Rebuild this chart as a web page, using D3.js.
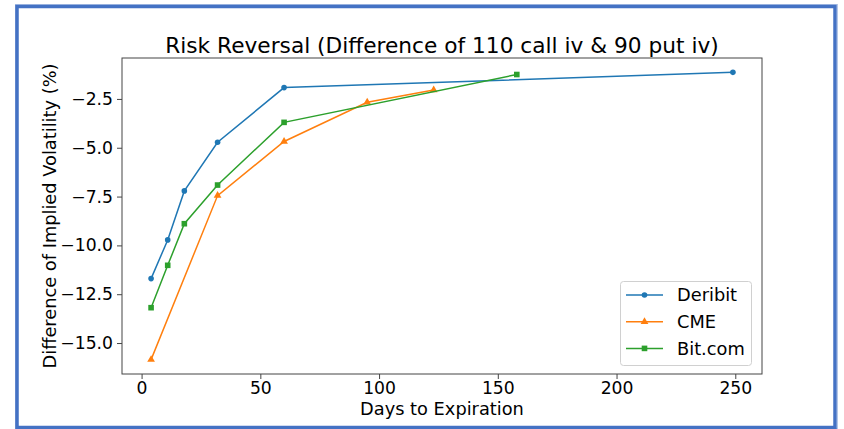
<!DOCTYPE html>
<html>
<head>
<meta charset="utf-8">
<script src="https://cdn.jsdelivr.net/npm/d3@7"></script>
<style>
  html, body { margin: 0; padding: 0; background: #fff; }
  svg { display: block; }
  text { font-family: "DejaVu Sans", sans-serif; fill: #000; }
</style>
</head>
<body>
<svg id="chart" width="844" height="429"></svg>
<script>
// ---- data ----
const title = "Risk Reversal (Difference of 110 call iv & 90 put iv)";
const xLabel = "Days to Expiration";
const yLabel = "Difference of Implied Volatility (%)";
const seriesNames = ["Deribit", "CME", "Bit.com"];
const seriesColors = ["#1f77b4", "#ff7f0e", "#2ca02c"];
const seriesMarkers = ["circle", "triangle", "square"];

const deribitDays = [4, 11, 18, 32, 60, 249];
const deribitValues = [-11.7, -9.72, -7.21, -4.72, -1.92, -1.14];
const cmeDays = [4, 32, 60, 95, 123];
const cmeValues = [-15.85, -7.45, -4.68, -2.67, -2.04];
const bitDays = [4, 11, 18, 32, 60, 158];
const bitValues = [-13.19, -11.02, -8.89, -6.91, -3.70, -1.25];

const xTicks = [0, 50, 100, 150, 200, 250];
const yTicks = [-15, -12.5, -10, -7.5, -5, -2.5];

// ---- layout ----
const svg = d3.select("#chart");
const plot = { left: 122, right: 762, top: 58, bottom: 374 };

const series = [
  { name: seriesNames[0], days: deribitDays, vals: deribitValues, color: seriesColors[0], marker: seriesMarkers[0] },
  { name: seriesNames[1], days: cmeDays, vals: cmeValues, color: seriesColors[1], marker: seriesMarkers[1] },
  { name: seriesNames[2], days: bitDays, vals: bitValues, color: seriesColors[2], marker: seriesMarkers[2] }
];

const allX = series.flatMap(s => s.days);
const allY = series.flatMap(s => s.vals);
const [x0, x1] = d3.extent(allX);
const [y0, y1] = d3.extent(allY);
const mx = (x1 - x0) * 0.05, my = (y1 - y0) * 0.05;

const x = d3.scaleLinear().domain([x0 - mx, x1 + mx]).range([plot.left, plot.right]);
const y = d3.scaleLinear().domain([y0 - my, y1 + my]).range([plot.bottom, plot.top]);

// outer frame
svg.append("rect").attr("x", 15.5).attr("y", 4.5).attr("width", 822).attr("height", 424)
  .attr("fill", "none").attr("stroke", "#b4c7e7").attr("stroke-width", 1);
svg.append("rect").attr("x", 17).attr("y", 6.5).attr("width", 818).attr("height", 421)
  .attr("fill", "#fff").attr("stroke", "#4472c4").attr("stroke-width", 3.5);

// title
svg.append("text").attr("x", (plot.left + plot.right) / 2).attr("y", 53)
  .attr("text-anchor", "middle").style("font-size", "21.7px").text(title);

const fmt = d => (d < 0 ? "\u2212" : "") + Math.abs(d).toFixed(1);

// axes
const xAxis = d3.axisBottom(x).tickValues(xTicks).tickFormat(d3.format("d")).tickSize(5).tickPadding(3);
const yAxis = d3.axisLeft(y).tickValues(yTicks).tickFormat(fmt).tickSize(5).tickPadding(4);

const gx = svg.append("g").attr("transform", `translate(0,${plot.bottom})`).call(xAxis);
const gy = svg.append("g").attr("transform", `translate(${plot.left},0)`).call(yAxis);
[gx, gy].forEach(g => {
  g.select(".domain").remove();
  g.selectAll(".tick line").attr("stroke", "#444").attr("stroke-width", 1);
  g.selectAll(".tick text").style("font-family", "DejaVu Sans").style("font-size", "17.2px").attr("fill", "#000");
});

// plot frame (spines)
svg.append("rect").attr("x", plot.left).attr("y", plot.top)
  .attr("width", plot.right - plot.left).attr("height", plot.bottom - plot.top)
  .attr("fill", "none").attr("stroke", "#444").attr("stroke-width", 1);

// axis labels
svg.append("text").attr("x", (plot.left + plot.right) / 2).attr("y", 415)
  .attr("text-anchor", "middle").style("font-size", "17.8px").text(xLabel);
svg.append("text").attr("transform", `translate(56,${(plot.top + plot.bottom) / 2}) rotate(-90)`)
  .attr("text-anchor", "middle").style("font-size", "17.8px").text(yLabel);

// markers
function drawMarker(g, type, cx, cy, color) {
  if (type === "circle") {
    g.append("circle").attr("cx", cx).attr("cy", cy).attr("r", 2.8).attr("fill", color);
  } else if (type === "square") {
    g.append("rect").attr("x", cx - 2.8).attr("y", cy - 2.8).attr("width", 5.6).attr("height", 5.6).attr("fill", color);
  } else {
    g.append("path").attr("d", d3.symbol(d3.symbolTriangle, 26)()).attr("transform", `translate(${cx},${cy})`).attr("fill", color);
  }
}

const line = d3.line().x(d => x(d[0])).y(d => y(d[1]));
const plotG = svg.append("g");
series.forEach(s => {
  const pts = s.days.map((d, i) => [d, s.vals[i]]);
  plotG.append("path").datum(pts).attr("d", line).attr("fill", "none")
    .attr("stroke", s.color).attr("stroke-width", 1.5);
  pts.forEach(p => drawMarker(plotG, s.marker, x(p[0]), y(p[1]), s.color));
});

// legend
const leg = svg.append("g");
leg.append("rect").attr("x", 620.5).attr("y", 281.5).attr("width", 131).attr("height", 84)
  .attr("rx", 3).attr("fill", "#fff").attr("fill-opacity", 0.8).attr("stroke", "#d0d0d0").attr("stroke-width", 1);
series.forEach((s, i) => {
  const cy = 295 + i * 26.7;
  leg.append("line").attr("x1", 626).attr("x2", 663).attr("y1", cy).attr("y2", cy)
    .attr("stroke", s.color).attr("stroke-width", 1.5);
  drawMarker(leg, s.marker, 644.5, cy, s.color);
  leg.append("text").attr("x", 677).attr("y", cy + 6.3).style("font-size", "17.8px").text(s.name);
});
</script>
</body>
</html>
